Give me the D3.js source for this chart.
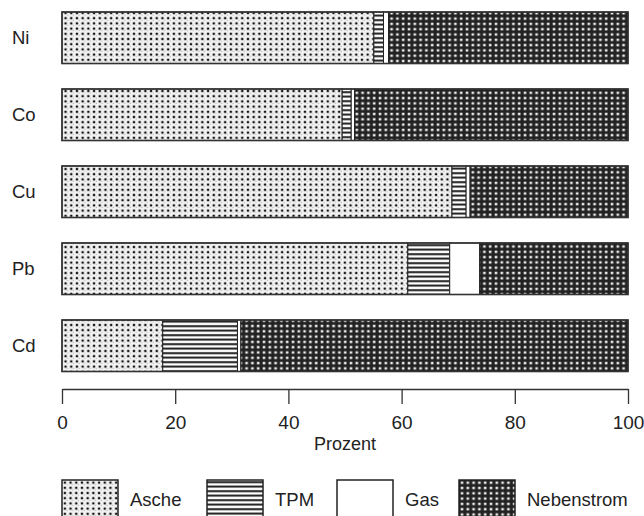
<!DOCTYPE html>
<html><head><meta charset="utf-8">
<script src="https://cdn.jsdelivr.net/npm/d3@7/dist/d3.min.js"></script>
<style>
html,body{margin:0;padding:0;background:#fff;}
svg{display:block;}
text{font-family:"Liberation Sans",Arial,Helvetica,sans-serif;fill:#222;}
</style></head>
<body>
<script>
const categories = ["Ni","Co","Cu","Pb","Cd"];
const seriesNames = ["Asche","TPM","Gas","Nebenstrom"];
const asche = [55.1, 49.5, 68.9, 61.1, 17.8];
const tpm   = [1.7, 1.6, 2.5, 7.4, 13.2];
const gas   = [0.9, 0.6, 0.7, 5.3, 0.6];
const neben = [42.3, 48.3, 27.9, 26.2, 68.4];
const tickValues = [0,20,40,60,80,100];
const axisTitle = "Prozent";

const W = 644, H = 516;
const svg = d3.select("body").append("svg").attr("width", W).attr("height", H);
const defs = svg.append("defs");

// Patterns
const pA = defs.append("pattern").attr("id","pAsche").attr("patternUnits","userSpaceOnUse")
  .attr("width",5.7).attr("height",5.2);
pA.append("rect").attr("width",5.7).attr("height",5.2).attr("fill","#f3f3f3");
pA.append("rect").attr("x",1.7).attr("y",1.5).attr("width",2.3).attr("height",2.2).attr("fill","#111");
pA.append("rect").attr("x",4.6).attr("y",4.2).attr("width",1).attr("height",1).attr("fill","#aaa");

const pT = defs.append("pattern").attr("id","pTPM").attr("patternUnits","userSpaceOnUse")
  .attr("width",10).attr("height",4.5);
pT.append("rect").attr("width",10).attr("height",4.5).attr("fill","#fff");
pT.append("rect").attr("y",1.2).attr("width",10).attr("height",1.9).attr("fill","#111");

const pN = defs.append("pattern").attr("id","pNeben").attr("patternUnits","userSpaceOnUse")
  .attr("width",5.8).attr("height",5.3);
pN.append("rect").attr("width",5.8).attr("height",5.3).attr("fill","#222");
pN.append("rect").attr("x",1.7).attr("y",1.5).attr("width",2.6).attr("height",2.4).attr("fill","#eee");

const fills = {"Asche":"url(#pAsche)","TPM":"url(#pTPM)","Gas":"#fff","Nebenstrom":"url(#pNeben)"};

const x = d3.scaleLinear().domain([0,100]).range([62,628]);
const y = d3.scaleBand().domain(categories).range([12, 371.5]).paddingInner(0.331).paddingOuter(0).align(0);

const rows = categories.map((c,i)=>({cat:c, Asche:asche[i], TPM:tpm[i], Gas:gas[i], Nebenstrom:neben[i]}));
const stack = d3.stack().keys(seriesNames)(rows);

const g = svg.append("g");
stack.forEach(layer=>{
  g.append("g").selectAll("rect").data(layer).join("rect")
    .attr("x", d=>x(d[0]))
    .attr("y", d=>y(d.data.cat))
    .attr("width", d=>x(d[1])-x(d[0]))
    .attr("height", y.bandwidth())
    .attr("fill", fills[layer.key])
    .attr("stroke","#222").attr("stroke-width",1);
});
// outlines
g.append("g").selectAll("rect").data(categories).join("rect")
  .attr("x", x(0)).attr("y", d=>y(d)).attr("width", x(100)-x(0)).attr("height", y.bandwidth())
  .attr("fill","none").attr("stroke","#333").attr("stroke-width",1.6);

// category labels
svg.append("g").selectAll("text").data(categories).join("text")
  .attr("x", 12).attr("y", d=>y(d)+y.bandwidth()/2+6)
  .attr("font-size",18.5).text(d=>d);

// axis
const axisG = svg.append("g").attr("transform","translate(0,389)")
  .call(d3.axisBottom(x).tickValues(tickValues).tickSize(15).tickSizeOuter(0).tickPadding(12));
axisG.select(".domain").attr("stroke","#333").attr("stroke-width",1.5);
axisG.selectAll(".tick line").attr("stroke","#333").attr("stroke-width",1.3);
axisG.selectAll(".tick text").attr("font-size",19).attr("fill","#222")
  .attr("font-family",'"Liberation Sans",Arial,sans-serif');

svg.append("text").attr("x", x(50)).attr("y", 450).attr("text-anchor","middle")
  .attr("font-size",18).text(axisTitle);

// legend
const legX = [62, 207, 337, 459];
const lg = svg.append("g").selectAll("g").data(seriesNames).join("g")
  .attr("transform",(d,i)=>`translate(${legX[i]},480)`);
lg.append("rect").attr("width",56).attr("height",44)
  .attr("fill", d=>fills[d]).attr("stroke","#222").attr("stroke-width",1.5);
lg.append("text").attr("x",68).attr("y",26).attr("font-size",18.5).text(d=>d);
</script>
</body></html>
